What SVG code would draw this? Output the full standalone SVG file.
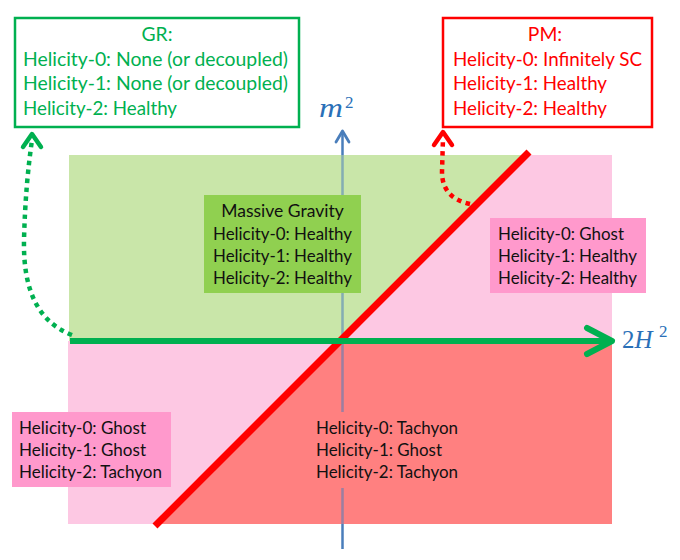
<svg xmlns="http://www.w3.org/2000/svg" width="680" height="560" viewBox="0 0 680 560">
<style>
.t{font-family:Lato,"Open Sans","Liberation Sans",sans-serif;font-size:17.5px;fill:#111}
.b{font-family:Lato,"Open Sans","Liberation Sans",sans-serif;font-size:19.3px}
.g{fill:#00b050}
.r{fill:#ff0000}
.m{font-family:"Liberation Serif","DejaVu Serif",serif;fill:#2a70b8}
.dot{fill:none;stroke-width:4.5;stroke-dasharray:4.5 4.5}
.head{fill:none;stroke-linecap:round;stroke-linejoin:round}
</style>
<g id="regions">
<polygon points="69,155 527,155 343,341 69,341" fill="#c9e6a9"/>
<polygon points="527,155 612,155 612,341 343,341" fill="#fdc8e3"/>
<polygon points="68,341 343,341 160,524 68,524" fill="#fdc8e3"/>
<polygon points="343,341 612,341 612,524 160,524" fill="#ff8080"/>
</g>
<g id="m2-axis">
<line x1="342.5" y1="133" x2="342.5" y2="155" stroke="#4a7ebb" stroke-width="2.5"/>
<line x1="342.5" y1="155" x2="342.5" y2="524" stroke="#4a7ebb" stroke-width="2.5" stroke-opacity="0.55"/>
<line x1="342.5" y1="524" x2="342.5" y2="549" stroke="#4a7ebb" stroke-width="2.5"/>
<polyline class="head" points="336,142 342.5,131 349,142" stroke="#4a7ebb" stroke-width="2.8"/>
<text class="m" x="319" y="117" font-size="28" font-style="italic" textLength="24" lengthAdjust="spacingAndGlyphs">m</text>
<text class="m" x="345" y="108" font-size="17">2</text>
</g>
<g id="massive-gravity">
<rect x="204" y="195" width="157" height="98" fill="#90d050"/>
<text class="t" x="282.5" y="217" text-anchor="middle">Massive Gravity</text>
<text class="t" x="213" y="240" textLength="139" lengthAdjust="spacingAndGlyphs">Helicity-0: Healthy</text>
<text class="t" x="213" y="262" textLength="139" lengthAdjust="spacingAndGlyphs">Helicity-1: Healthy</text>
<text class="t" x="213" y="284" textLength="139" lengthAdjust="spacingAndGlyphs">Helicity-2: Healthy</text>
</g>
<g id="upper-right">
<rect x="490" y="218" width="156" height="75" fill="#ff99cc"/>
<text class="t" x="498" y="240" textLength="126" lengthAdjust="spacingAndGlyphs">Helicity-0: Ghost</text>
<text class="t" x="498" y="262" textLength="139" lengthAdjust="spacingAndGlyphs">Helicity-1: Healthy</text>
<text class="t" x="498" y="284" textLength="139" lengthAdjust="spacingAndGlyphs">Helicity-2: Healthy</text>
</g>
<g id="lower-left">
<rect x="12" y="412" width="159" height="75" fill="#ff99cc"/>
<text class="t" x="19" y="434" textLength="127" lengthAdjust="spacingAndGlyphs">Helicity-0: Ghost</text>
<text class="t" x="19" y="456" textLength="127" lengthAdjust="spacingAndGlyphs">Helicity-1: Ghost</text>
<text class="t" x="19" y="478" textLength="143" lengthAdjust="spacingAndGlyphs">Helicity-2: Tachyon</text>
</g>
<g id="lower-right">
<rect x="311" y="412" width="152" height="76" fill="#ff8080"/>
<text class="t" x="316" y="434" textLength="142" lengthAdjust="spacingAndGlyphs">Helicity-0: Tachyon</text>
<text class="t" x="316" y="456" textLength="126" lengthAdjust="spacingAndGlyphs">Helicity-1: Ghost</text>
<text class="t" x="316" y="478" textLength="142" lengthAdjust="spacingAndGlyphs">Helicity-2: Tachyon</text>
</g>
<g id="connectors">
<line id="pm-line" x1="155" y1="526" x2="529" y2="152" stroke="#ff0000" stroke-width="7"/>
<line x1="70" y1="341" x2="609" y2="341" stroke="#00b050" stroke-width="6"/>
<polyline class="head" points="587,328 612,341 587,354" stroke="#00b050" stroke-width="6"/>
<path class="dot" d="M72,335 C38,322 23,290 24,240 C25,200 28,168 32,140" stroke="#00b050"/>
<polyline class="head" points="23,147 32,134 41,147" stroke="#00b050" stroke-width="4.5"/>
<path class="dot" d="M470,204 C452,200 442,190 442,172 L443,138" stroke="#ff0000"/>
<polyline class="head" points="434,145 443,132 452,145" stroke="#ff0000" stroke-width="4.5"/>
</g>
<g id="h2-label">
<text class="m" x="622" y="348" font-size="25">2<tspan font-style="italic">H</tspan></text>
<text class="m" x="659" y="337" font-size="17">2</text>
</g>
<g id="gr-box">
<rect x="15" y="18" width="284" height="109" fill="#fff" stroke="#00b050" stroke-width="2.5"/>
<text class="b g" x="157" y="41" text-anchor="middle">GR:</text>
<text class="b g" x="23" y="66" textLength="265" lengthAdjust="spacingAndGlyphs">Helicity-0: None (or decoupled)</text>
<text class="b g" x="23" y="90" textLength="265" lengthAdjust="spacingAndGlyphs">Helicity-1: None (or decoupled)</text>
<text class="b g" x="23" y="115" textLength="154" lengthAdjust="spacingAndGlyphs">Helicity-2: Healthy</text>
</g>
<g id="pm-box">
<rect x="443" y="18" width="209" height="109" fill="#fff" stroke="#ff0000" stroke-width="2.5"/>
<text class="b r" x="545" y="41" text-anchor="middle">PM:</text>
<text class="b r" x="453" y="66" textLength="189" lengthAdjust="spacingAndGlyphs">Helicity-0: Infinitely SC</text>
<text class="b r" x="453" y="90" textLength="154" lengthAdjust="spacingAndGlyphs">Helicity-1: Healthy</text>
<text class="b r" x="453" y="115" textLength="154" lengthAdjust="spacingAndGlyphs">Helicity-2: Healthy</text>
</g>
</svg>
